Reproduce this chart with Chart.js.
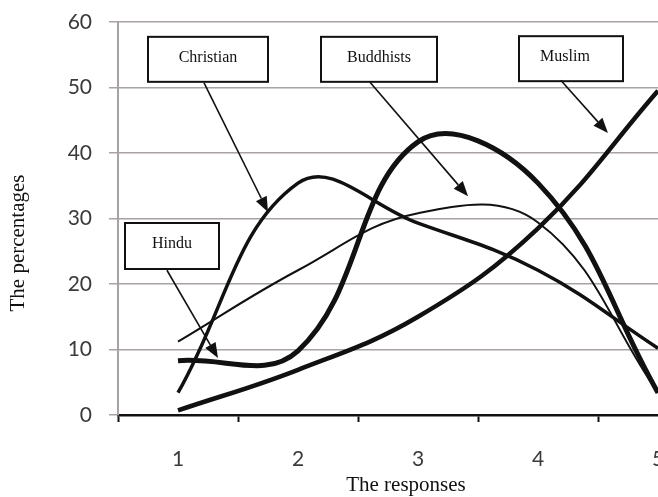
<!DOCTYPE html>
<html>
<head>
<meta charset="utf-8">
<script src="https://cdn.jsdelivr.net/npm/chart.js@4"></script>
<style>
  html, body { margin: 0; padding: 0; background: #fff; overflow: hidden; }
  #wrap { width: 740px; height: 497px; }
</style>
</head>
<body>
<div id="wrap"><canvas id="grafico" width="740" height="497"></canvas></div>
<script>
// datos
const respuestas = ['1', '2', '3', '4', '5'];
const hindu = [8.3, 9.8, 41.7, 35.4, 3.4];
const cristianos = [3.4, 35.4, 29.3, 22.1, 10.2];
const budistas = [11.2, 22.1, 30.8, 29.4, 3.4];
const musulmanes = [0.7, 6.9, 15.0, 28.5, 49.5];
const yMin = 0, yMax = 60, yPaso = 10;

// etiquetas con flecha (coordenadas en unidades de datos)
const etiquetas = [
  { texto: 'Christian', cx: 1.25, cy: 54.3, w: 120, h: 45, desde: [1.217, 50.7], hasta: [1.75, 31.0] },
  { texto: 'Buddhists', cx: 2.675, cy: 54.3, w: 116, h: 45, desde: [2.6, 50.8], hasta: [3.417, 33.4] },
  { texto: 'Muslim', cx: 4.275, cy: 54.4, w: 104, h: 45, dx: -6, desde: [4.19, 51.1], hasta: [4.583, 43.05] },
  { texto: 'Hindu', cx: 0.95, cy: 25.8, w: 94, h: 46, desde: [0.908, 22.1], hasta: [1.333, 8.7] }
];

const gris = '#a8a2a2';
const negro = '#111';

function flecha(ctx, x1, y1, x2, y2) {
  const ang = Math.atan2(y2 - y1, x2 - x1);
  const largo = 15, ancho = 6;
  const bx = x2 - largo * Math.cos(ang), by = y2 - largo * Math.sin(ang);
  ctx.beginPath();
  ctx.moveTo(x1, y1);
  ctx.lineTo(bx, by);
  ctx.lineWidth = 1.6;
  ctx.strokeStyle = negro;
  ctx.stroke();
  ctx.beginPath();
  ctx.moveTo(x2, y2);
  ctx.lineTo(bx + ancho * Math.sin(ang), by - ancho * Math.cos(ang));
  ctx.lineTo(bx - ancho * Math.sin(ang), by + ancho * Math.cos(ang));
  ctx.closePath();
  ctx.fillStyle = negro;
  ctx.fill();
}

const pluginEtiquetas = {
  id: 'etiquetas',
  afterDatasetsDraw(chart) {
    const ctx = chart.ctx;
    const sx = chart.scales.x, sy = chart.scales.y;
    ctx.save();
    etiquetas.forEach(e => {
      const cx = sx.getPixelForValue(e.cx - 1), cy = sy.getPixelForValue(e.cy);
      ctx.fillStyle = '#fff';
      ctx.fillRect(cx - e.w / 2, cy - e.h / 2, e.w, e.h);
      ctx.lineWidth = 2;
      ctx.strokeStyle = negro;
      ctx.strokeRect(cx - e.w / 2, cy - e.h / 2, e.w, e.h);
      ctx.fillStyle = negro;
      ctx.font = '16px "Liberation Serif"';
      ctx.textAlign = 'center';
      ctx.textBaseline = 'middle';
      ctx.fillText(e.texto, cx + (e.dx || 0), cy - 2);
      flecha(ctx,
        sx.getPixelForValue(e.desde[0] - 1), sy.getPixelForValue(e.desde[1]),
        sx.getPixelForValue(e.hasta[0] - 1), sy.getPixelForValue(e.hasta[1]));
    });
    // titulos de ejes
    ctx.fillStyle = negro;
    ctx.font = '21px "Liberation Serif"';
    ctx.textAlign = 'center';
    ctx.textBaseline = 'middle';
    ctx.fillText('The responses', 406, 485);
    ctx.translate(18, 243);
    ctx.rotate(-Math.PI / 2);
    ctx.fillText('The percentages', 0, 0);
    ctx.restore();
  }
};

function serie(label, data, ancho) {
  return {
    label: label,
    data: data,
    borderColor: negro,
    borderWidth: ancho,
    pointRadius: 0,
    tension: 0.4,
    fill: false
  };
}

new Chart(document.getElementById('grafico'), {
  type: 'line',
  data: {
    labels: respuestas,
    datasets: [
      serie('Hindu', hindu, 5),
      serie('Christian', cristianos, 3.5),
      serie('Buddhists', budistas, 2),
      serie('Muslim', musulmanes, 4.5)
    ]
  },
  options: {
    responsive: false,
    animation: false,
    layout: { padding: { left: 0, right: 22, top: 22, bottom: 0 } },
    plugins: { legend: { display: false }, tooltip: { enabled: false } },
    scales: {
      x: {
        type: 'category',
        offset: true,
        afterFit: s => { s.height = 82; s.paddingLeft = 0; s.paddingRight = 0; },
        grid: {
          offset: true,
          drawOnChartArea: false,
          drawTicks: true,
          tickLength: 7,
          tickColor: negro,
          tickWidth: 2
        },
        border: { color: negro, width: 2.5 },
        ticks: { font: { family: 'Lato', size: 21 }, color: '#3a3a3a', padding: 25 }
      },
      y: {
        min: yMin,
        max: yMax,
        afterFit: s => { s.width = 118; s.paddingTop = 0; s.paddingBottom = 0; },
        grid: {
          color: c => c.tick && c.tick.value === 0 ? 'rgba(0,0,0,0)' : gris,
          lineWidth: 1.5,
          tickLength: 9,
          tickColor: gris
        },
        border: { color: gris, width: 2 },
        ticks: { stepSize: yPaso, font: { family: 'Lato', size: 21 }, color: '#3a3a3a', padding: 17 }
      }
    }
  },
  plugins: [pluginEtiquetas]
});
</script>
</body>
</html>
